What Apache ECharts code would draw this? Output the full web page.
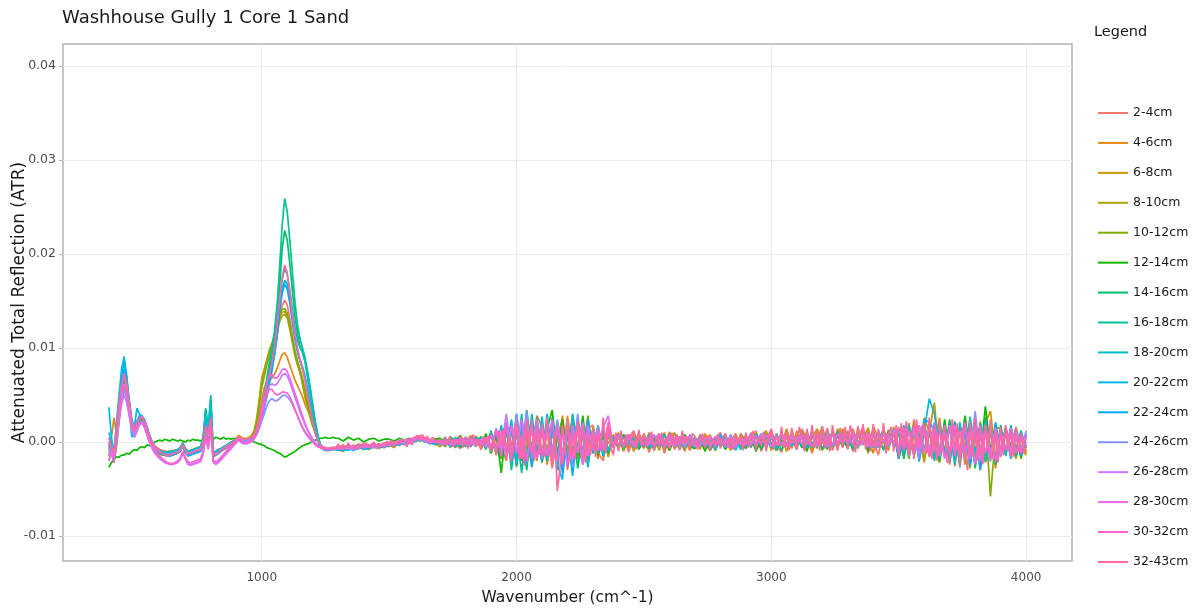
<!DOCTYPE html>
<html>
<head>
<meta charset="utf-8">
<script src="https://cdn.jsdelivr.net/npm/echarts@6/dist/echarts.min.js"></script>
<style>html,body{margin:0;padding:0;background:#fff;}#chart{width:1198px;height:610px;}</style>
</head>
<body>
<div id="chart"></div>
<script>
// Wavenumber sampling (cm^-1)
const wnA = [400,410,420,430,440,450,460,470,480,490,
500,510,520,530,540,550,560,570,580,590,
600,610,620,630,640,650,660,670,680,690,
700,710,720,730,740,750,760,770,780,790,
800,810,820,830,840,850,860,870,880,890,
900,910,920,930,940,950,960,970,980,990,
1000,1010,1020,1030,1040,1050,1060,1070,1080,1090,
1100,1110,1120,1130,1140,1150,1160,1170,1180,1190,
1200,1210,1220,1230,1240,1250,1260,1270,1280,1290];
const wnB = [1300,1320,1340,1360,1380,1400,1420,1440,1460,1480,
1500,1520,1540,1560,1580,1600,1620,1640,1660,1680,
1700,1720,1740,1760,1780,1800,1820,1840,1860,1880,
1900,1920,1940,1960,1980,2000,2020,2040,2060,2080,
2100,2120,2140,2160,2180,2200,2220,2240,2260,2280,
2300,2320,2340,2360,2380,2400,2420,2440,2460,2480,
2500,2520,2540,2560,2580,2600,2620,2640,2660,2680,
2700,2720,2740,2760,2780,2800,2820,2840,2860,2880,
2900,2920,2940,2960,2980,3000,3020,3040,3060,3080,
3100,3120,3140,3160,3180,3200,3220,3240,3260,3280,
3300,3320,3340,3360,3380,3400,3420,3440,3460,3480,
3500,3520,3540,3560,3580,3600,3620,3640,3660,3680,
3700,3720,3740,3760,3780,3800,3820,3840,3860,3880,
3900,3920,3940,3960,3980,4000];
const wnB10 = [1300,1310,1320,1330,1340,1350,1360,1370,1380,1390,
1400,1410,1420,1430,1440,1450,1460,1470,1480,1490,
1500,1510,1520,1530,1540,1550,1560,1570,1580,1590,
1600,1610,1620,1630,1640,1650,1660,1670,1680,1690,
1700,1710,1720,1730,1740,1750,1760,1770,1780,1790,
1800,1810,1820,1830,1840,1850,1860,1870,1880,1890,
1900,1910,1920,1930,1940,1950,1960,1970,1980,1990,
2000,2010,2020,2030,2040,2050,2060,2070,2080,2090,
2100,2110,2120,2130,2140,2150,2160,2170,2180,2190,
2200,2210,2220,2230,2240,2250,2260,2270,2280,2290,
2300,2310,2320,2330,2340,2350,2360,2370,2380,2390,
2400,2410,2420,2430,2440,2450,2460,2470,2480,2490,
2500,2510,2520,2530,2540,2550,2560,2570,2580,2590,
2600,2610,2620,2630,2640,2650,2660,2670,2680,2690,
2700,2710,2720,2730,2740,2750,2760,2770,2780,2790,
2800,2810,2820,2830,2840,2850,2860,2870,2880,2890,
2900,2910,2920,2930,2940,2950,2960,2970,2980,2990,
3000,3010,3020,3030,3040,3050,3060,3070,3080,3090,
3100,3110,3120,3130,3140,3150,3160,3170,3180,3190,
3200,3210,3220,3230,3240,3250,3260,3270,3280,3290,
3300,3310,3320,3330,3340,3350,3360,3370,3380,3390,
3400,3410,3420,3430,3440,3450,3460,3470,3480,3490,
3500,3510,3520,3530,3540,3550,3560,3570,3580,3590,
3600,3610,3620,3630,3640,3650,3660,3670,3680,3690,
3700,3710,3720,3730,3740,3750,3760,3770,3780,3790,
3800,3810,3820,3830,3840,3850,3860,3870,3880,3890,
3900,3910,3920,3930,3940,3950,3960,3970,3980,3990,
4000];

// ATR values in units of 1e-4
const UNIT = 1e-4;
const seriesNames = ['2-4cm','4-6cm','6-8cm','8-10cm','10-12cm','12-14cm','14-16cm','16-18cm','18-20cm','20-22cm','22-24cm','24-26cm','26-28cm','28-30cm','30-32cm','32-43cm'];
const xTicks = [1000,2000,3000,4000];
const yTicks = [-0.01,0,0.01,0.02,0.03,0.04];

const lo_2_4 = [-5,0,-12,5,25,45,55,48,32,18,
10,16,22,24,20,13,6,0,-4,-6,
-8,-9,-10,-10,-10,-9,-9,-8,-6,-1,
-7,-10,-9,-8,-7,-6,-5,2,18,6,
24,-11,-10,-8,-7,-5,-4,-2,0,1,
3,5,3,2,2,3,4,6,12,22,
36,48,58,68,80,94,112,130,145,151,
146,132,115,98,86,76,68,56,44,32,
20,9,1,-4,-6,-7,-7,-7,-6,-6];
const hi_2_4 = [-4,-7,-3,-8,-5,-2,-6,-4,-7,-3,
-5,0,-4,1,-2,4,6,0,3,-3,
2,-5,6,-2,-7,3,5,-4,1,-6,
10,-6,-12,18,-4,26,-18,8,-24,20,
-20,12,-28,6,24,-14,30,-8,-22,14,
18,-12,-20,10,-6,9,-10,4,12,-7,
6,-11,3,9,-5,11,-8,2,-10,7,
-6,8,-2,-9,4,10,-7,1,9,-5,
8,-6,12,-10,3,13,-4,-11,9,2,
-8,14,3,-12,10,-2,15,-9,7,-6,
12,-10,5,16,-8,2,-14,11,-3,15,
-18,14,-6,24,-20,10,-16,20,-22,8,
-24,16,-10,26,-18,4,-30,22,-14,18,
-16,12,-4,14,-10,6];

const lo_4_6 = [-8,5,26,8,30,50,60,52,35,20,
12,18,24,25,21,14,6,0,-4,-7,
-9,-10,-10,-11,-10,-10,-9,-8,-6,-1,
-7,-10,-9,-8,-7,-6,-5,2,16,6,
22,-11,-10,-8,-7,-5,-4,-2,0,1,
4,6,4,3,3,4,5,8,15,28,
45,58,64,66,68,72,78,86,93,95,
90,82,74,66,60,54,48,40,34,28,
20,11,3,-3,-6,-7,-7,-7,-6,-6];
const hi_4_6 = [-6,-3,-8,-5,-2,-7,-4,-1,-6,-3,
-1,-5,2,-3,3,1,7,2,-2,4,
-3,5,-6,2,7,-5,0,6,-8,3,
-9,11,-5,-20,14,-26,12,20,-10,28,
16,-24,10,-14,28,-30,8,18,-16,-6,
12,-18,14,-2,8,-8,6,-10,9,1,
-7,10,-2,8,-12,4,9,-6,2,-9,
5,-8,9,-3,-6,7,2,-9,6,-1,
-5,10,-8,4,12,-9,6,-2,14,-7,
12,-6,9,-11,4,16,-5,10,-8,13,
-6,14,-2,9,-12,17,4,-8,13,-4,
16,-10,20,-14,8,-22,18,-4,26,-16,
20,-26,12,-8,24,-18,16,-22,12,-28,
10,-14,16,-8,12,-12];

const lo_6_8 = [-12,-5,-18,0,28,52,65,55,35,18,
10,17,24,26,21,13,5,-2,-6,-9,
-11,-12,-12,-13,-12,-12,-11,-10,-8,-3,
-9,-12,-11,-10,-9,-8,-7,0,17,5,
22,-13,-12,-10,-8,-6,-5,-3,-1,1,
4,7,5,4,4,5,7,12,25,45,
68,78,88,98,105,112,122,132,138,139,
134,124,110,96,84,74,62,48,37,28,
18,12,4,-3,-6,-7,-8,-8,-7,-7];
const hi_6_8 = [-8,-5,-4,-7,-3,-6,-8,-4,-2,-5,
-3,-6,1,-2,2,3,1,5,-1,2,
4,-3,1,-6,5,-2,7,-4,-1,6,
-10,7,-14,16,-8,22,-20,6,-26,12,
-12,22,-18,4,-20,28,-10,14,-24,10,
-8,16,-14,8,-4,10,-6,5,-10,7,
2,-8,6,-3,10,-9,4,-5,8,-2,
-7,6,-1,8,-9,3,-4,7,-8,4,
5,-4,10,-8,2,11,-6,7,-10,9,
-4,12,-6,5,14,-9,3,10,-7,14,
8,-8,15,-3,6,-12,10,2,-9,16,
-12,14,-6,20,-14,26,10,42,-18,12,
-20,18,-10,24,-16,8,-12,20,33,-16,
-12,14,-8,16,-6,-14];

const lo_8_10 = [-15,-8,-20,-3,25,48,60,52,33,17,
9,16,23,25,20,12,4,-3,-7,-10,
-12,-13,-13,-14,-13,-13,-12,-11,-9,-4,
-10,-13,-12,-11,-10,-9,-8,-1,15,4,
20,-14,-13,-11,-9,-7,-6,-4,-2,0,
3,6,4,3,3,4,6,10,22,42,
64,74,84,94,102,110,120,128,134,136,
132,120,106,92,82,74,62,48,36,26,
17,10,3,-3,-6,-8,-8,-8,-7,-7];
const hi_8_10 = [-9,-6,-8,-4,-7,-3,-6,-2,-5,-1,
-4,1,-2,2,-1,3,5,1,0,-2,
-5,3,1,-6,4,0,-4,6,2,-7,
9,-10,14,-6,20,-16,24,-8,16,-20,
14,-10,22,-20,26,-8,12,-18,10,-24,
16,-10,8,-16,6,-4,8,-9,4,-2,
9,-5,3,-9,7,-3,10,-2,5,-8,
2,-7,6,-9,3,-4,8,-6,7,-3,
6,-5,9,-2,11,-8,7,-4,12,1,
7,-3,11,-7,13,1,8,-5,14,0,
9,-7,11,3,15,-5,7,-2,12,-1,
12,-16,18,-8,14,-20,10,-12,22,-10,
20,-16,14,-24,10,-14,22,-20,-16,16,
14,-12,8,-18,6,-10];

const lo_10_12 = [-20,-12,-22,-5,22,45,58,50,32,16,
8,15,22,24,19,11,3,-4,-8,-11,
-13,-14,-14,-15,-14,-14,-13,-12,-10,-5,
-11,-14,-13,-12,-11,-10,-9,-2,14,3,
18,-15,-14,-12,-10,-8,-7,-5,-3,-1,
2,5,3,2,2,3,5,9,20,38,
58,70,82,94,104,114,126,136,141,142,
137,124,110,96,86,78,66,52,40,28,
18,10,2,-4,-7,-8,-9,-9,-8,-8];
const hi_10_12 = [-8,-10,-6,-7,-4,-8,-5,-6,-2,-5,
0,-3,1,-2,2,3,1,4,-1,2,
1,-5,3,2,-4,5,-2,3,-6,7,
-12,6,-18,12,-24,16,-10,26,-14,8,
-18,20,-8,14,-26,10,-20,22,-14,28,
-12,18,-16,6,-6,5,-9,3,-4,10,
-4,5,-9,7,-2,9,-6,3,-8,5,
-3,7,-6,2,-9,5,-2,4,-7,9,
1,7,-7,8,-4,5,-9,10,-2,6,
-3,11,-2,8,-7,13,1,10,-5,8,
-2,10,-7,13,1,8,-5,15,-3,10,
-14,12,-18,8,-12,20,-8,14,-22,16,
-12,22,-20,12,-28,16,-14,26,-58,8,
-10,16,-14,12,-18,7];

const lo_12_14 = [-27,-22,-18,-16,-16,-14,-14,-12,-13,-10,
-8,-9,-6,-5,-6,-3,-4,-1,0,1,
2,1,3,2,1,3,2,1,2,1,
0,2,1,3,2,2,1,3,2,3,
4,3,5,4,3,5,3,4,3,4,
3,4,2,3,2,1,2,0,-1,-2,
-3,-4,-6,-7,-8,-9,-11,-12,-14,-16,
-15,-13,-12,-10,-8,-6,-4,-3,-2,-1,
1,2,3,4,4,5,4,4,5,4];
const hi_12_14 = [4,1,5,2,4,0,3,4,1,3,
3,1,4,2,4,1,4,2,0,3,
4,-2,5,1,6,-4,5,2,-5,9,
-12,9,-33,18,-14,26,-20,34,-10,16,
-22,14,34,-16,24,-26,10,-14,28,-18,
8,-14,12,-9,3,-6,8,-5,5,-8,
3,-7,6,-5,2,-9,5,-3,8,-5,
-7,3,-10,5,-3,2,-8,6,-5,0,
-7,5,-10,3,-5,8,-9,2,-4,7,
-5,7,-10,10,-3,5,-8,12,-2,4,
-7,8,-3,12,-10,7,-2,10,-5,13,
-18,9,-12,16,-9,18,-15,12,-20,24,
-15,18,-24,28,-12,20,-18,38,-9,15,
-12,15,-6,9,-16,6];

const lo_14_16 = [-15,-8,-18,0,25,50,65,55,35,15,
5,12,22,25,20,12,4,-3,-7,-10,
-12,-13,-14,-14,-13,-12,-11,-10,-8,-3,
-9,-13,-12,-10,-9,-8,-7,3,34,12,
46,-13,-12,-10,-8,-6,-5,-3,-1,0,
2,4,2,1,1,2,3,5,10,20,
35,48,62,78,92,108,132,165,205,225,
215,190,162,135,115,102,95,86,72,56,
38,20,6,-3,-7,-8,-9,-8,-8,-8];
const hi_14_16 = [-8,-9,-6,-8,-5,-7,-7,-4,-6,-3,
-4,-2,-1,-2,0,2,3,1,-1,-2,
-2,5,-4,2,-6,4,0,-4,6,-8,
12,-14,9,-12,20,-26,14,-30,22,-12,
18,-20,26,-12,14,-24,20,-28,9,-14,
14,-9,6,-12,5,-5,6,-2,3,-7,
5,-7,2,-5,8,-3,3,-8,6,-2,
5,-3,2,-9,3,-5,6,-3,2,-7,
3,-5,6,-8,8,-2,5,-9,6,-3,
5,-6,8,-2,9,-8,6,-3,11,-5,
6,-8,9,-3,11,-5,8,-9,12,-2,
9,-18,15,-12,18,-9,12,-20,15,-15,
24,-20,18,-12,15,-28,20,-18,12,-24,
18,-9,12,-15,9,-6];

const lo_16_18 = [-5,0,-12,5,30,55,70,60,38,18,
8,15,24,27,23,15,6,-1,-5,-8,
-10,-11,-12,-12,-11,-11,-10,-9,-7,-2,
-8,-11,-10,-9,-8,-7,-6,5,36,15,
50,-12,-10,-9,-8,-6,-4,-3,-1,1,
3,5,3,2,2,3,4,6,12,22,
38,52,68,85,100,118,145,185,230,259,
245,215,182,150,125,110,100,90,75,58,
40,22,8,-2,-6,-7,-8,-8,-7,-7];
const hi_16_18 = [-7,-9,-8,-6,-7,-5,-6,-5,-4,-5,
-3,-2,-3,0,1,1,3,0,2,0,
2,-3,3,-2,4,-5,3,0,-2,5,
-8,14,-12,20,-30,12,-33,18,-9,26,
-14,22,-18,12,-24,18,-12,26,-18,9,
-12,15,-9,12,-5,6,-3,5,-6,3,
-3,6,-5,8,-3,5,-2,6,-5,3,
-5,6,-3,5,-6,2,-5,3,-2,5,
-2,6,-3,8,-5,9,-2,5,-3,8,
-3,8,0,9,-5,6,-2,11,-3,9,
-2,9,-3,11,-6,8,0,12,-5,9,
-12,15,-15,18,-9,21,-12,15,-18,12,
-18,15,-27,21,-15,18,-21,24,-12,18,
-15,12,-9,15,-12,9];

const lo_18_20 = [10,0,-10,15,45,70,85,70,45,25,
15,22,28,28,24,16,7,0,-4,-7,
-9,-10,-11,-11,-10,-10,-9,-8,-6,-1,
-7,-10,-9,-8,-7,-6,-5,4,30,14,
40,-11,-10,-8,-7,-5,-4,-2,0,1,
2,4,2,1,1,2,3,5,10,18,
30,42,55,68,82,98,120,148,172,185,
178,162,142,122,108,100,96,85,68,50,
32,16,4,-4,-7,-8,-8,-8,-7,-7];
const hi_18_20 = [-5,-7,-3,-6,-7,-4,-5,-2,-5,-3,
-2,-1,-2,2,1,3,4,2,1,-1,
0,3,-3,5,-2,2,-5,3,2,-6,
9,-9,18,-15,12,-24,18,-18,30,-9,
12,-18,21,-30,15,-21,30,-9,18,-27,
12,-12,15,-9,6,-5,5,-3,6,-3,
5,-5,6,-2,8,-5,3,-6,5,-3,
2,-5,5,-6,3,-2,6,-5,3,-8,
3,-5,8,-3,6,-6,9,-2,5,-5,
6,-3,9,-6,8,0,11,-5,6,-2,
8,-5,11,-2,9,-6,12,0,8,-3,
12,-12,18,-15,9,-9,15,-18,21,-12,
15,-24,21,-15,27,-12,18,-21,15,-18,
12,-15,18,-9,12,-6];

const lo_20_22 = [37,5,-12,20,50,78,91,70,35,5,
15,36,30,27,22,15,7,0,-5,-9,
-11,-12,-13,-14,-14,-13,-12,-11,-9,-4,
-10,-14,-13,-12,-11,-10,-9,-2,22,8,
30,-14,-13,-11,-9,-7,-6,-4,-2,0,
1,3,1,0,0,1,2,4,8,15,
26,38,50,64,78,94,115,140,162,172,
168,152,132,112,98,88,80,70,55,40,
25,12,2,-4,-7,-8,-8,-8,-7,-7];
const hi_20_22 = [-8,-6,-9,-7,-5,-8,-6,-4,-6,-5,
-4,-2,-3,-1,0,2,3,1,-2,0,
-3,2,-5,3,-2,5,-3,0,3,-3,
6,-12,15,-9,24,-18,30,-24,21,-15,
27,-18,15,-24,-40,15,-21,24,-15,18,
-9,12,-15,9,-5,8,-6,3,-5,6,
-3,8,-6,5,-8,3,-2,6,-3,2,
-6,3,-5,6,-8,2,-3,5,-9,3,
-2,8,-6,5,-3,9,-8,6,-5,8,
-3,9,-6,8,-2,11,-5,8,-3,9,
-5,11,-2,9,-6,12,-3,8,-2,11,
-15,18,-12,15,-21,12,46,30,-9,15,
-21,12,-15,18,-24,15,-12,21,-18,12,
-12,9,-18,12,-9,6];

const lo_22_24 = [0,-10,-20,5,35,62,78,65,42,22,
12,20,27,27,22,14,6,-1,-6,-9,
-11,-13,-14,-15,-15,-14,-13,-12,-10,-5,
-11,-15,-14,-13,-12,-11,-10,-3,20,6,
28,-15,-14,-12,-10,-8,-6,-4,-2,0,
1,3,1,0,0,1,2,4,8,15,
25,36,48,62,76,92,112,138,158,168,
163,148,128,110,96,86,78,68,54,38,
24,11,1,-5,-8,-9,-9,-8,-8,-8];
const hi_22_24 = [-9,-7,-6,-9,-6,-4,-7,-5,-3,-6,
-3,-4,-1,-2,2,0,3,2,-1,-2,
2,-3,3,-5,2,3,-3,5,-2,3,
-9,9,-15,12,-21,30,-15,21,-27,15,
-21,30,-15,21,-33,9,-36,18,-12,24,
-9,15,-6,18,-5,5,-6,8,-2,5,
-5,3,-8,6,-3,8,-5,2,-6,6,
-2,5,-6,3,-5,8,-3,2,-6,5,
-5,6,-2,9,-6,5,-3,8,-5,6,
-2,9,-5,6,-3,9,-6,11,-2,8,
-3,9,-5,12,-2,8,-6,11,-3,9,
-18,12,-9,18,-15,24,21,12,-12,18,
-15,21,-18,12,-24,18,-30,15,-15,21,
-9,15,-12,6,-15,9];

const lo_24_26 = [-10,-3,-15,5,28,46,55,47,30,15,
8,14,20,22,18,11,4,-2,-6,-9,
-11,-12,-13,-13,-12,-12,-11,-10,-8,-3,
-9,-12,-11,-10,-9,-8,-7,0,15,5,
20,-13,-12,-10,-8,-6,-5,-3,-1,0,
2,4,2,1,1,2,3,5,9,15,
22,30,38,44,46,44,44,46,49,50,
48,45,40,34,28,22,16,11,7,4,
1,-2,-4,-5,-6,-7,-7,-7,-6,-6];
const hi_24_26 = [-6,-4,-8,-5,-3,-7,-4,-6,-2,-5,
-2,-4,1,-2,2,1,4,3,-1,2,
-2,3,-2,3,-3,5,-2,2,-3,3,
-6,12,-9,21,-15,30,-12,33,-18,15,
-18,18,-12,24,-21,15,-24,30,-15,12,
-6,18,-9,12,-3,8,-5,6,-3,5,
-2,6,-3,8,-5,3,-2,5,-6,8,
-3,6,-5,3,-2,5,-6,8,-3,2,
-3,9,-2,6,-5,8,-3,9,-2,5,
-2,8,-3,11,-5,6,2,9,-3,8,
0,9,-5,8,-2,12,-3,9,-5,14,
-9,15,-15,12,-18,15,-12,21,-9,15,
-12,18,-21,15,-15,33,-18,12,-21,15,
-12,9,-15,6,-9,12];

const lo_26_28 = [-15,-8,-18,0,22,40,50,42,27,13,
5,11,18,20,15,7,-1,-7,-12,-15,
-18,-20,-22,-23,-24,-24,-23,-22,-19,-12,
-18,-24,-25,-24,-23,-22,-21,-13,5,-8,
12,-22,-24,-22,-19,-16,-13,-10,-7,-4,
-1,2,-1,-2,-2,-1,0,3,8,16,
28,40,52,60,62,60,62,66,71,73,
70,64,56,48,40,32,25,18,12,7,
3,-1,-4,-6,-7,-8,-8,-8,-7,-7];
const hi_26_28 = [-8,-5,-7,-8,-4,-6,-3,-6,-5,-2,
-4,-1,-2,1,-1,3,4,3,0,1,
1,-3,3,-2,5,-3,2,-5,3,0,
-9,15,-6,30,-12,21,-18,15,-9,24,
-15,12,-21,18,-12,21,-18,15,-24,18,
-9,12,-6,15,-3,6,-5,5,-3,6,
-3,5,-6,8,-2,5,-5,6,-3,5,
-5,5,-3,6,-5,3,-2,5,-6,3,
-2,6,-5,8,-3,6,-2,9,-5,6,
-3,8,-2,9,-3,8,-5,9,0,8,
-2,11,-3,9,-5,11,-2,9,-3,11,
-12,12,-9,15,-12,18,-9,15,-15,12,
-15,18,-12,21,-18,15,-21,18,-12,15,
-15,12,-9,15,-12,9];

const lo_28_30 = [-20,-10,-22,5,30,50,62,52,34,18,
9,14,20,21,16,8,0,-6,-11,-14,
-17,-19,-21,-22,-23,-23,-22,-21,-18,-11,
-17,-23,-24,-23,-22,-21,-20,-12,6,-6,
14,-21,-23,-21,-18,-15,-12,-9,-6,-3,
0,3,0,-1,-1,0,1,4,10,20,
35,50,62,70,72,68,68,72,77,78,
75,68,60,52,44,36,28,20,13,8,
3,-1,-4,-6,-7,-8,-8,-8,-7,-7];
const hi_28_30 = [-5,-8,-4,-7,-6,-3,-6,-2,-5,-4,
-1,-2,0,2,0,4,5,1,-1,2,
-2,2,-3,3,1,-2,5,-3,2,-5,
8,-12,12,-18,18,-12,24,-21,15,-18,
18,-15,24,-21,15,-27,18,-12,21,-15,
12,-9,15,28,-6,5,-3,6,-5,3,
5,-3,8,-5,3,-6,5,-2,6,-3,
3,-5,5,-2,6,-3,3,-6,5,-2,
5,-3,6,-2,8,-5,6,-3,9,-2,
6,-2,8,-5,9,0,6,-3,9,-2,
8,-3,9,-2,11,-5,8,0,9,-3,
15,-9,12,-15,18,-12,15,-9,12,-18,
18,-15,12,-18,15,-24,18,-12,15,-21,
12,-9,15,-12,9,-6];

const lo_30_32 = [0,-5,-15,10,40,60,70,60,40,22,
14,20,26,27,22,14,5,-2,-8,-12,
-15,-18,-20,-22,-23,-23,-22,-20,-17,-10,
-16,-21,-22,-21,-20,-19,-18,-10,8,-4,
18,-20,-21,-19,-16,-13,-10,-7,-4,-2,
1,4,1,0,0,1,2,5,10,18,
28,40,50,56,56,52,50,51,53,53,
52,48,42,35,28,21,15,10,6,3,
0,-3,-5,-6,-7,-8,-8,-8,-7,-7];
const hi_30_32 = [-4,-7,-3,-6,-5,-2,-5,-3,-4,-1,
-3,0,1,2,3,5,6,4,2,-1,
2,-2,3,-3,5,0,-3,3,-2,5,
-9,13,-15,18,-21,15,-18,24,-12,18,
-15,21,-18,15,-24,18,-15,21,-18,12,
-6,12,-9,21,-5,6,-3,8,-2,5,
-3,6,-5,6,-3,8,-5,3,-2,6,
-3,5,-2,6,-5,3,-3,5,-2,6,
-2,8,-3,6,-2,9,-3,8,-5,9,
0,9,-2,8,-3,11,-2,9,-3,8,
2,9,-3,11,-2,8,-5,12,-2,9,
-9,15,-12,18,-9,15,-15,18,-12,15,
-12,15,-18,18,-15,21,-12,15,-18,12,
-9,12,-15,9,-12,6];

const lo_32_43 = [5,-5,-10,10,35,60,73,62,40,20,
12,18,25,26,22,14,6,0,-4,-7,
-10,-12,-14,-15,-14,-13,-12,-11,-9,-3,
-9,-13,-12,-11,-10,-9,-8,0,18,8,
26,-14,-13,-11,-9,-7,-6,-4,-2,0,
3,6,4,3,3,4,5,8,14,25,
40,52,62,72,85,100,125,150,175,188,
180,160,135,115,100,88,78,65,50,36,
22,10,2,-3,-5,-6,-7,-6,-6,-7];
// 32-43cm read at 10 cm^-1 spacing above 1300 cm^-1 (topmost trace)
const hi_32_43 = [-2,-8,-4,-6,-1,-7,-3,-5,-8,-2,
-5,-1,-6,-3,0,-7,-2,-4,-6,1,
-3,2,-4,0,-2,3,-1,-5,2,-3,
4,7,1,8,3,6,0,5,2,-1,
3,-4,5,-2,6,-5,2,-3,4,-6,
5,-7,2,8,-5,3,-8,6,-2,7,
-10,6,-14,12,-4,15,-12,8,-16,10,
22,-18,8,-25,18,-6,24,-20,12,-14,
20,-16,26,-10,-24,12,-52,-30,18,-12,
24,-20,10,-18,22,-8,16,-22,6,-14,
14,-16,8,-10,26,-12,18,-6,-14,10,
-10,12,-6,8,-11,4,10,-8,13,-5,
9,-6,3,11,-9,5,-4,10,-10,6,
-7,10,-3,8,-9,12,-2,6,-8,9,
6,-8,2,9,-6,7,-9,4,-3,8,
-7,5,9,-6,3,-8,7,-2,8,-9,
10,-6,4,12,-9,6,-4,11,-10,7,
14,-8,9,-4,16,-6,11,-9,15,2,
-8,16,4,-10,14,-3,18,-6,12,-9,
17,-7,12,-10,18,2,-9,15,-5,16,
-8,18,3,-11,17,-4,19,-8,12,-10,
19,-9,14,-6,20,-12,8,16,-10,18,
-16,20,-8,22,-14,10,-18,24,-6,16,
20,-12,26,-18,14,-20,22,-10,18,-22,
-18,24,-12,20,-26,16,-8,-30,22,-14,
26,-20,14,-24,18,-10,24,-18,12,-22,
16,-14,18,-8,12,-16,14,-10,8,-12,
-5];

const seriesLo = [lo_2_4,lo_4_6,lo_6_8,lo_8_10,lo_10_12,lo_12_14,lo_14_16,lo_16_18,lo_18_20,lo_20_22,lo_22_24,lo_24_26,lo_26_28,lo_28_30,lo_30_32,lo_32_43];
const seriesHi = [hi_2_4,hi_4_6,hi_6_8,hi_8_10,hi_10_12,hi_12_14,hi_14_16,hi_16_18,hi_18_20,hi_20_22,hi_22_24,hi_24_26,hi_26_28,hi_28_30,hi_30_32,hi_32_43];
const seriesHiX = seriesHi.map((_, k) => k === 15 ? wnB10 : wnB);

// ggplot2 default hue palette (hcl, c=100, l=65)
function hclHex(h, c, l) {
  const WY = 100, Wu = 0.1978398, Wv = 0.4683363;
  const hr = h * Math.PI / 180;
  const U = c * Math.cos(hr), V = c * Math.sin(hr);
  const Y = WY * (l > 7.999592 ? Math.pow((l + 16) / 116, 3) : l / 903.3);
  const u = U / (13 * l) + Wu, v = V / (13 * l) + Wv;
  const X = 9 * Y * u / (4 * v);
  const Z = -X / 3 - 5 * Y + 3 * Y / v;
  const g = t => t > 0.00304 ? 1.055 * Math.pow(t, 1 / 2.4) - 0.055 : 12.92 * t;
  const rgb = [
    g((3.240479 * X - 1.537150 * Y - 0.498535 * Z) / WY),
    g((-0.969256 * X + 1.875992 * Y + 0.041556 * Z) / WY),
    g((0.055648 * X - 0.204043 * Y + 1.057311 * Z) / WY)
  ];
  return '#' + rgb.map(x => Math.round(Math.max(0, Math.min(1, x)) * 255).toString(16).padStart(2, '0')).join('');
}
const n = seriesNames.length;
const colors = seriesNames.map((_, i) => hclHex(15 + 360 * i / n, 100, 65));

const FONT = 'DejaVu Sans';
const series = seriesNames.map((name, k) => {
  if (seriesLo[k].length !== wnA.length || seriesHi[k].length !== seriesHiX[k].length) {
    console.error('length mismatch', name, seriesLo[k].length, seriesHi[k].length);
  }
  const data = [];
  wnA.forEach((x, i) => data.push([x, seriesLo[k][i] * UNIT]));
  seriesHiX[k].forEach((x, i) => data.push([x, seriesHi[k][i] * UNIT]));
  return {
    type: 'line', name, data, symbol: 'none', showSymbol: false,
    lineStyle: { width: 1.7, color: colors[k] },
    itemStyle: { color: colors[k] },
    emphasis: { disabled: true }
  };
});

const chart = echarts.init(document.getElementById('chart'), null, { renderer: 'canvas' });
chart.setOption({
  animation: false,
  backgroundColor: '#ffffff',
  title: [
    { text: 'Washhouse Gully 1 Core 1 Sand', left: 62, top: 9, padding: 0,
      textStyle: { fontFamily: FONT, fontSize: 18, fontWeight: 'normal', color: '#1a1a1a' } },
    { text: 'Legend', left: 1094, top: 25, padding: 0,
      textStyle: { fontFamily: FONT, fontSize: 14.5, fontWeight: 'normal', color: '#1a1a1a' } }
  ],
  legend: {
    orient: 'vertical', left: 1098, top: 106, padding: 0, icon: 'rect',
    itemWidth: 30, itemHeight: 2, itemGap: 15.93,
    textStyle: { fontFamily: FONT, fontSize: 12.5, color: '#1a1a1a', lineHeight: 14 },
    data: seriesNames
  },
  grid: { left: 63, right: 126, top: 44, bottom: 49, containLabel: false, outerBoundsMode: 'none',
    show: true, borderColor: '#b3b3b3', borderWidth: 1.5, backgroundColor: '#ffffff' },
  xAxis: {
    type: 'value', min: 220, max: 4180,
    name: 'Wavenumber (cm^-1)', nameLocation: 'middle', nameGap: 29, nameMoveOverlap: false,
    nameTextStyle: { fontFamily: FONT, fontSize: 15.5, color: '#1a1a1a' },
    axisLine: { show: false },
    axisTick: { show: true, length: 4, customValues: xTicks, lineStyle: { color: '#b3b3b3' } },
    axisLabel: { customValues: xTicks, fontFamily: FONT, fontSize: 12, color: '#4d4d4d', margin: 11,
      formatter: v => String(Math.round(v)) },
    splitLine: { show: true, lineStyle: { color: '#ebebeb', width: 1 } }
  },
  yAxis: {
    type: 'value', min: -0.01266, max: 0.04234,
    name: 'Attenuated Total Reflection (ATR)', nameLocation: 'middle', nameGap: 35, nameMoveOverlap: false,
    nameTextStyle: { fontFamily: FONT, fontSize: 17, color: '#1a1a1a' },
    axisLine: { show: false },
    axisTick: { show: true, length: 4, customValues: yTicks, lineStyle: { color: '#b3b3b3' } },
    axisLabel: { customValues: yTicks, fontFamily: FONT, fontSize: 12.5, color: '#4d4d4d', margin: 7,
      formatter: v => (Math.abs(v) < 1e-9 ? 0 : v).toFixed(2) },
    splitLine: { show: true, lineStyle: { color: '#ebebeb', width: 1 } }
  },
  series
});
</script>
</body>
</html>
